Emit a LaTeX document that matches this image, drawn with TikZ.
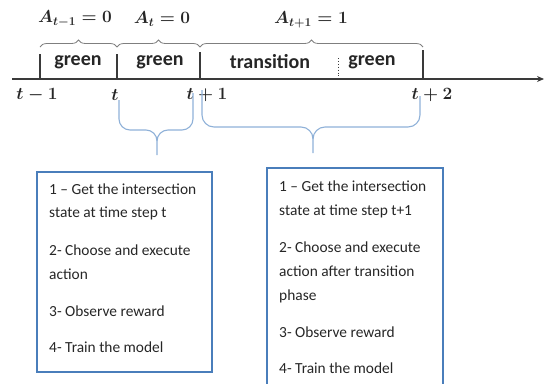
\documentclass[tikz,border=0pt]{standalone}
\usepackage{fontspec}
\setmainfont{Carlito}
\usetikzlibrary{decorations.pathreplacing,arrows.meta}
\definecolor{axisgray}{HTML}{3A3A3A}
\definecolor{bracegray}{HTML}{7F7F7F}
\definecolor{braceblue}{HTML}{8FB1D8}
\definecolor{panelblue}{HTML}{4A7EBB}
\definecolor{textdark}{HTML}{262626}
\tikzset{
  phase/.style={font=\fontsize{20}{24}\selectfont\bfseries, text=textdark, inner sep=0pt},
  timelabel/.style={font=\fontsize{17}{20}\selectfont\boldmath, text=textdark, inner sep=0pt},
  actlabel/.style={font=\fontsize{17}{20}\selectfont\boldmath, text=textdark, inner sep=0pt},
  tickmark/.style={draw=axisgray, line width=1.1pt},
  topbrace/.style={draw=bracegray, line width=0.8pt, decorate, decoration={brace, amplitude=7pt}},
  lowbrace/.style={draw=braceblue, line width=1.1pt},
  panel/.style={draw=panelblue, line width=1.1pt, inner sep=0pt},
  stepline/.style={font=\fontsize{15.4}{18}\selectfont, text=textdark, anchor=west, inner sep=0pt},
}
\begin{document}
\begin{tikzpicture}[x=1pt, y=-1pt]
\useasboundingbox (0,0) rectangle (545,383);

% time axis
\coordinate (axL) at (12,79);
\coordinate (axR) at (544,79);
\draw[draw=axisgray, line width=1.3pt, -{Stealth[length=7pt,width=6pt]}] (axL) -- (axR);

% interval boundaries
\coordinate (t0) at (40,79);   \coordinate (t0u) at (40,54);
\coordinate (t1) at (117,79);  \coordinate (t1u) at (117,54);
\coordinate (t2) at (200,79);  \coordinate (t2u) at (200,52);
\coordinate (t3) at (423,79);  \coordinate (t3u) at (423,50);
\draw[tickmark] (t0) -- (t0u);
\draw[tickmark] (t1) -- (t1u);
\draw[tickmark] (t2) -- (t2u);
\draw[tickmark] (t3) -- (t3u);
\coordinate (dA) at (338,58);
\coordinate (dB) at (338,76);
\draw[draw=axisgray, line width=0.9pt, dotted] (dA) -- (dB);

% phases
\node[phase] (g1) at (78,62) {green};
\node[phase] (g2) at (160,62) {green};
\node[phase] (tr) at (270,62) {transition};
\node[phase] (g3) at (372,62) {green};

% actions above the axis
\coordinate (b0) at (40,47);
\coordinate (b1) at (117,47);
\coordinate (b2) at (200,47);
\coordinate (b3) at (423,47);
\draw[topbrace] (b0) -- (b1);
\draw[topbrace] (b1) -- (b2);
\draw[topbrace] (b2) -- (b3);
\node[actlabel] (a0) at (75,19) {$A_{t-1} = 0$};
\node[actlabel] (a1) at (162,19) {$A_{t} = 0$};
\node[actlabel] (a2) at (311,20) {$A_{t+1} = 1$};

% time stamps
\node[timelabel] (l0) at (37,95) {$t - 1$};
\node[timelabel] (l1) at (115,95) {$t$};
\node[timelabel] (l2) at (207,95) {$t + 1$};
\node[timelabel] (l3) at (432,95) {$t + 2$};

% decision windows (hand-drawn curly braces)
\coordinate (w0) at (119,100);
\coordinate (w1) at (193,93);
\coordinate (wtip) at (157,155);
\draw[lowbrace] (w0) -- (119,119) to[out=-90,in=180] (130,130) -- (146,130)
  to[out=0,in=90] (157,141) -- (wtip);
\draw[lowbrace] (w1) -- (193,119) to[out=-90,in=0] (182,130) -- (168,130)
  to[out=180,in=90] (157,141);

\coordinate (v0) at (202,90);
\coordinate (v1) at (420,96);
\coordinate (vtip) at (313,153);
\draw[lowbrace] (v0) -- (202,115) to[out=-90,in=180] (214,127) -- (301,127)
  to[out=0,in=90] (313,139) -- (vtip);
\draw[lowbrace] (v1) -- (420,115) to[out=-90,in=0] (408,127) -- (325,127)
  to[out=180,in=90] (313,139);

% step lists
\node[panel, minimum width=175pt, minimum height=200pt] (leftbox) at (124.5,272) {};
\node[panel, minimum width=176pt, minimum height=226pt] (rightbox) at (355,281) {};

\node[stepline] (p1) at (49,189) {1 – Get the intersection};
\node[stepline] (p2) at (49,213) {state at time step t};
\node[stepline] (p3) at (49,250) {2- Choose and execute};
\node[stepline] (p4) at (49,274) {action};
\node[stepline] (p5) at (49,311) {3- Observe reward};
\node[stepline] (p6) at (49,347) {4- Train the model};

\node[stepline] (q1) at (279,186) {1 – Get the intersection};
\node[stepline] (q2) at (279,211) {state at time step t+1};
\node[stepline] (q3) at (279,247) {2- Choose and execute};
\node[stepline] (q4) at (279,271) {action after transition};
\node[stepline] (q5) at (279,296) {phase};
\node[stepline] (q6) at (279,332) {3- Observe reward};
\node[stepline] (q7) at (279,368) {4- Train the model};
\end{tikzpicture}
\end{document}
